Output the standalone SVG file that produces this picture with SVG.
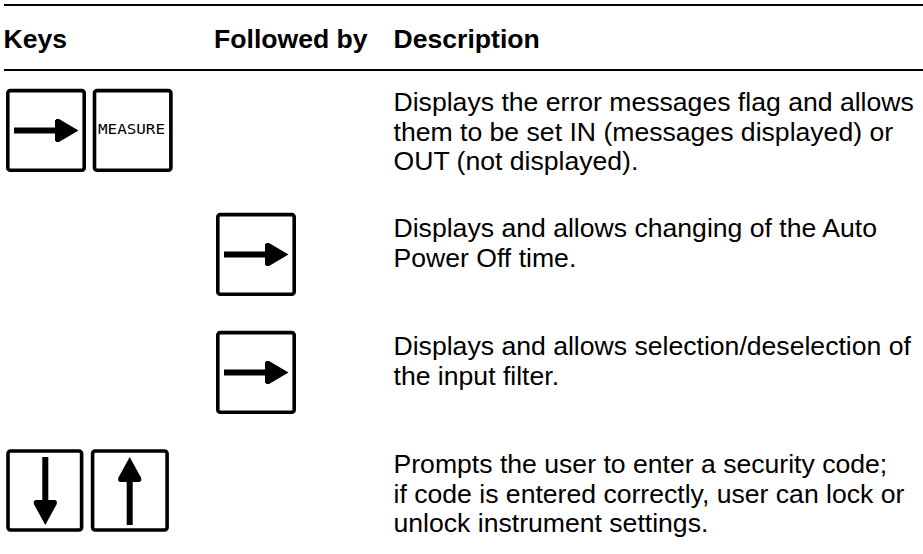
<svg xmlns="http://www.w3.org/2000/svg" width="923" height="554" viewBox="0 0 923 554">
<style>
text{font-family:"Liberation Sans",Arial,sans-serif;fill:#000}
.h{font-size:26.6px;font-weight:bold}
.b{font-size:26.6px}
.k{fill:#fff;stroke:#000;stroke-width:3.6}
</style>
<defs>
<g id="right"><rect class="k" x="7.800" y="90.600" width="76.400" height="79.600" rx="2.500"/><path d="M14 127.500h41v-7.500h1v-1h3l19.500 11.500-19.500 11.500h-3v-1h-1v-7.500h-41z" fill="#000"/></g>
</defs>
<g id="rules"><rect x="4" y="4" width="919" height="2" fill="#000"/><rect x="4" y="69" width="919" height="2" fill="#000"/></g>
<g id="header"><text class="h" x="3.500" y="48">Keys</text><text class="h" x="214" y="48">Followed by</text><text class="h" x="393.500" y="48">Description</text></g>
<g id="key-right-1"><use href="#right"/></g>
<g id="key-measure"><rect class="k" x="94.500" y="90.600" width="76.400" height="79.600" rx="2.500"/><text x="98" y="133.500" font-size="14" style="font-family:'DejaVu Sans Mono','Liberation Mono',monospace" textLength="67" lengthAdjust="spacingAndGlyphs">MEASURE</text></g>
<g id="key-right-2"><use href="#right" transform="translate(210 124)"/></g>
<g id="key-right-3"><use href="#right" transform="translate(210 242)"/></g>
<g id="key-down"><rect class="k" x="8" y="451" width="73.600" height="79" rx="2.500"/><path d="M42.300 457h6v43h7.500v1h1v3l-11.500 21-11.500-21v-3h1v-1h7.500z" fill="#000"/></g>
<g id="key-up"><rect class="k" x="92.600" y="451" width="74.500" height="79" rx="2.500"/><path d="M126.700 525h6v-43h7.500v-1h1v-3l-11.500-21-11.500 21v3h1v1h7.500z" fill="#000"/></g>
<g id="text-1"><text class="b" x="393.500" y="111">Displays the error messages flag and allows</text><text class="b" x="393.500" y="141">them to be set IN (messages displayed) or</text><text class="b" x="393.500" y="170">OUT (not displayed).</text></g>
<g id="text-2"><text class="b" x="393.500" y="237">Displays and allows changing of the Auto</text><text class="b" x="393.500" y="267">Power Off time.</text></g>
<g id="text-3"><text class="b" x="393.500" y="355">Displays and allows selection/deselection of</text><text class="b" x="393.500" y="385">the input filter.</text></g>
<g id="text-4"><text class="b" x="393.500" y="473">Prompts the user to enter a security code;</text><text class="b" x="393.500" y="503">if code is entered correctly, user can lock or</text><text class="b" x="393.500" y="532">unlock instrument settings.</text></g>
</svg>
